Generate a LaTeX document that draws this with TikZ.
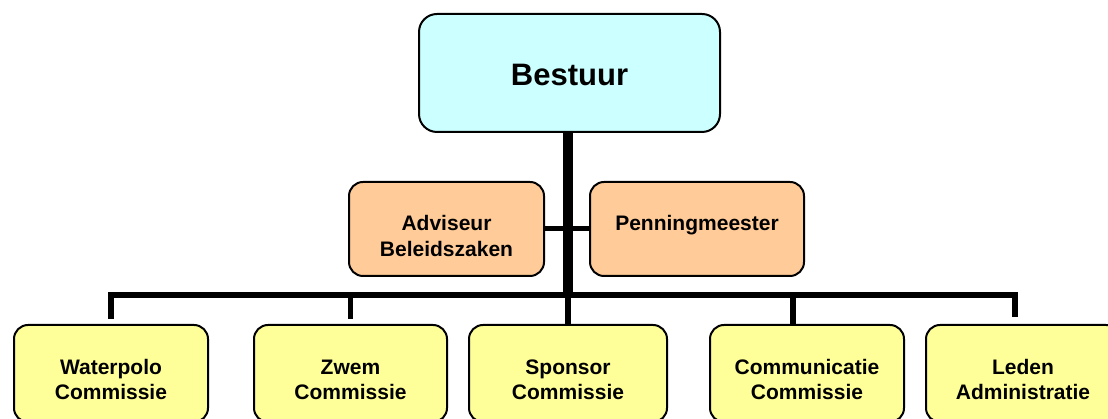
\documentclass[tikz,border=0pt]{standalone}
\usepackage{fontspec}
\setmainfont{Liberation Sans}
\usetikzlibrary{positioning}
\definecolor{boardblue}{HTML}{CCFFFF}
\definecolor{staffpeach}{HTML}{FFCC99}
\definecolor{committeeyellow}{HTML}{FFFF99}
\tikzstyle{org chart}=[
    x=1pt, y=1pt, node distance=20pt and 44pt,
    org box/.style={
        draw, line width=2pt, rounded corners=14pt, align=center, inner sep=0pt,
        font=\bfseries\fontsize{21}{25.5}\selectfont,
    },
    board/.style={org box, fill=boardblue, rounded corners=18pt,
        minimum width=301pt, minimum height=118pt,
        font=\bfseries\fontsize{31}{37}\selectfont, text height=26pt, text depth=0pt},
    staff/.style={org box, fill=staffpeach, minimum height=94pt,
        text height=55pt, text depth=0pt},
    committee/.style={org box, fill=committeeyellow, minimum height=97pt,
        text height=53pt, text depth=0pt},
    trunk/.style={line width=10pt},
    bar/.style={line width=5.5pt},
]
\newcommand{\twolines}[2]{#1\\#2}

\begin{document}
\begin{tikzpicture}[org chart]
    \useasboundingbox (0,0) rectangle (1108,419);
    \clip (0,0) rectangle (1108,419);

    \node[board] (bestuur) at (569.5,346) {Bestuur};
    \node[staff, minimum width=195pt] (adviseur) at (446.5,190) {\twolines{Adviseur}{Beleidszaken}};
    \node[staff, minimum width=214pt, text height=16pt, text depth=12pt,
          right=44pt of adviseur] (penning) {Penningmeester};

    \node[committee, minimum width=194pt] (waterpolo) at (111,45.5) {\twolines{Waterpolo}{Commissie}};
    \node[committee, minimum width=193pt, right=44pt of waterpolo] (zwem) {\twolines{Zwem}{Commissie}};
    \node[committee, minimum width=198pt, right=20pt of zwem] (sponsor) {\twolines{Sponsor}{Commissie}};
    \node[committee, minimum width=194pt, right=41pt of sponsor] (communicatie) {\twolines{Communicatie}{Commissie}};
    \node[committee, minimum width=194pt, right=20pt of communicatie] (leden) {\twolines{Leden}{Administratie}};

    \coordinate (hub) at (568,124);

    % lines between the boxes
    \draw[trunk] (bestuur.south -| hub) -- (hub);
    \draw[line width=5pt] (adviseur.east) -- (penning.west);
    \draw[bar] (hub) -| ([yshift=5pt]waterpolo.north);
    \draw[bar] (hub) -| ([yshift=5pt]zwem.north);
    \draw[bar] (hub) -- (sponsor.north);
    \draw[bar] (hub) -| ([xshift=-14pt]communicatie.north);
    \draw[bar] (hub) -| ([shift={(-8pt,7pt)}]leden.north);
\end{tikzpicture}
\end{document}
